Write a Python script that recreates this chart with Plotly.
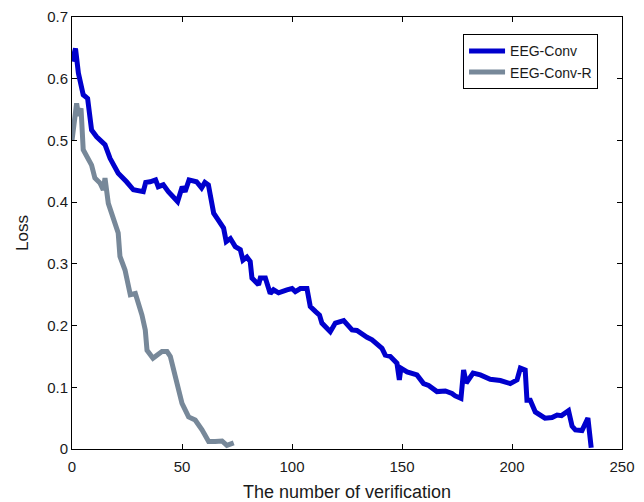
import plotly.graph_objects as go

# EEG-Conv (blue)
conv_x = [0, 1.6, 2.9, 5.1, 7.1, 8.9, 11.2, 12.7, 15, 17.3, 21, 24.8, 27.9, 32.4, 33.5, 35.5,
          38, 39.2, 41.5, 43.8, 48, 50.1, 51.4, 53.2, 56.6, 58.9, 60.4, 62, 64.4, 65.9, 68.9,
          70.1, 72, 74.2, 76.5, 77.7, 79.5, 81, 81.8, 84.8, 85.6, 87.9, 90.1, 91.6, 93.9, 97.7,
          100, 101.5, 103.8, 106.8, 108.3, 110.6, 112.5, 113.6, 115.9, 117.4, 119.7, 123.5,
          127.3, 129.5, 134.1, 136.4, 140.9, 142.4, 144.7, 147.7, 148.8, 149.5, 152.3, 156.8,
          159.8, 162.1, 165.9, 169.7, 172.7, 174.2, 176.8, 178, 179.2, 182.3, 185.6, 190.1,
          194.7, 199.2, 202.3, 203.8, 206, 206.8, 208.3, 210.6, 215, 218.2, 220.5, 222.5,
          225.7, 227.3, 228.8, 231.8, 234.5, 236]
conv_y = [0.628, 0.649, 0.609, 0.574, 0.568, 0.517, 0.506, 0.501, 0.493, 0.471, 0.447, 0.433,
          0.42, 0.417, 0.432, 0.433, 0.436, 0.425, 0.428, 0.417, 0.401, 0.425, 0.417, 0.436,
          0.433, 0.423, 0.432, 0.428, 0.382, 0.374, 0.358, 0.336, 0.341, 0.328, 0.323, 0.306,
          0.311, 0.304, 0.277, 0.266, 0.277, 0.277, 0.252, 0.258, 0.253, 0.258, 0.26, 0.255,
          0.26, 0.26, 0.231, 0.223, 0.217, 0.204, 0.194, 0.19, 0.204, 0.208, 0.193, 0.192,
          0.181, 0.177, 0.163, 0.152, 0.15, 0.139, 0.112, 0.131, 0.125, 0.12, 0.106, 0.103,
          0.093, 0.094, 0.09, 0.086, 0.082, 0.128, 0.107, 0.123, 0.12, 0.113, 0.111, 0.106,
          0.112, 0.131, 0.128, 0.079, 0.079, 0.06, 0.05, 0.051, 0.055, 0.054, 0.062, 0.037,
          0.031, 0.03, 0.05, 0.002]

# EEG-Conv-R (gray)
convr_x = [0, 2.1, 3.0, 4.1, 5.1, 6.6, 8.9, 10.4, 12.7, 14.2, 15, 16.5, 18.8, 21, 21.8, 24.1,
           26.5, 28.8, 31.8, 33.3, 34.1, 36.8, 38.6, 40.9, 43.2, 44.7, 47, 50, 53, 56, 59.1,
           62.1, 65.1, 68.2, 70.4, 73.5]
convr_y = [0.5, 0.56, 0.54, 0.552, 0.485, 0.476, 0.46, 0.439, 0.431, 0.42, 0.439, 0.398,
           0.371, 0.35, 0.312, 0.29, 0.25, 0.252, 0.217, 0.193, 0.16, 0.147, 0.152, 0.158,
           0.158, 0.15, 0.117, 0.074, 0.052, 0.047, 0.031, 0.012, 0.012, 0.013, 0.006, 0.01]

x_ticks = [0, 50, 100, 150, 200, 250]
y_ticks = [0, 0.1, 0.2, 0.3, 0.4, 0.5, 0.6, 0.7]
y_tick_text = ["0", "0.1", "0.2", "0.3", "0.4", "0.5", "0.6", "0.7"]

fig = go.Figure()
fig.add_trace(go.Scatter(x=conv_x, y=conv_y, mode="lines", name="EEG-Conv",
                         line=dict(color="#0000CD", width=5)))
fig.add_trace(go.Scatter(x=convr_x, y=convr_y, mode="lines", name="EEG-Conv-R",
                         line=dict(color="#778899", width=5)))

font_family = "Liberation Sans, Arial, sans-serif"
axis_common = dict(showline=True, linecolor="black", linewidth=1, mirror="ticks",
                   ticks="inside", ticklen=5, tickcolor="black", showgrid=False,
                   zeroline=False, automargin=False,
                   tickfont=dict(family=font_family, size=15, color="#1a1a1a"))

fig.update_layout(
    width=644, height=502,
    margin=dict(l=72, r=22, t=17, b=53),
    paper_bgcolor="white", plot_bgcolor="white",
    font=dict(family=font_family, color="#1a1a1a"),
    xaxis=dict(range=[0, 250], tickvals=x_ticks, ticklabelstandoff=4,
               title=dict(text="The number of verification", font=dict(size=18), standoff=14),
               **axis_common),
    yaxis=dict(range=[0, 0.7], tickvals=y_ticks, ticktext=y_tick_text,
               title=dict(text="Loss", font=dict(size=17), standoff=14),
               **axis_common),
    legend=dict(x=0.711, y=0.96, xanchor="left", yanchor="top",
                bordercolor="black", borderwidth=1, bgcolor="white",
                font=dict(family=font_family, size=14, color="#1a1a1a"),
                tracegroupgap=0, itemwidth=36),
    showlegend=True,
)

fig.write_html("out.html")
